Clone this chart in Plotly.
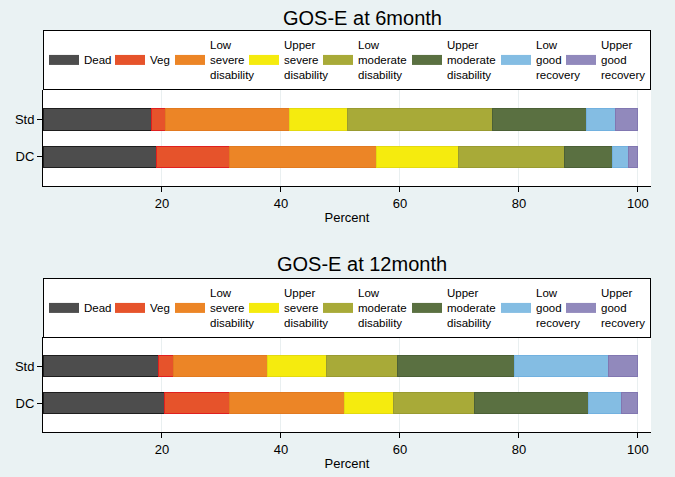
import plotly.graph_objects as go

# GOS-E outcome categories (stacked, percent)
categories = ['Dead', 'Veg', 'Low severe disability', 'Upper severe disability',
              'Low moderate disability', 'Upper moderate disability',
              'Low good recovery', 'Upper good recovery']
legend_labels = [' <br>Dead<br> ', ' <br>Veg<br> ', 'Low<br>severe<br>disability',
                 'Upper<br>severe<br>disability', 'Low<br>moderate<br>disability',
                 'Upper<br>moderate<br>disability', 'Low<br>good<br>recovery',
                 'Upper<br>good<br>recovery']
groups = ['Std', 'DC']

# 6 month
std_6m = [18.2, 2.4, 20.8, 9.7, 24.4, 15.9, 4.8, 3.8]
dc_6m = [19.0, 12.4, 24.6, 13.8, 17.9, 8.1, 2.7, 1.5]
# 12 month
std_12m = [19.4, 2.5, 15.8, 9.9, 12.0, 19.6, 15.8, 5.0]
dc_12m = [20.4, 11.0, 19.2, 8.3, 13.6, 19.2, 5.5, 2.8]

x_ticks = [20, 40, 60, 80, 100]

fills = ['#4d4d4d', '#e6532b', '#ec8526', '#f5eb0e', '#a8aa38', '#5a7041', '#84bde3', '#9189bc']
edges = ['#1e1e1e', '#e0201f', '#e27a20', '#e3da10', '#999b30', '#4b6036', '#72b1df', '#8177b1']
item_widths = [21, 15, 29, 29, 44, 44, 20, 44]

BG = '#eaf2f3'
FONT = 'Liberation Sans, Arial, sans-serif'

fig = go.Figure()

panels = [
    ('x', 'y', 'legend', std_6m, dc_6m),
    ('x2', 'y2', 'legend2', std_12m, dc_12m),
]
for xa, ya, lg, std_vals, dc_vals in panels:
    for i, cat in enumerate(categories):
        grp = lg + str(i)
        fig.add_trace(go.Bar(
            y=groups, x=[std_vals[i], dc_vals[i]], orientation='h',
            name=cat, xaxis=xa, yaxis=ya, legendgroup=grp, showlegend=False,
            width=0.58,
            marker=dict(color=fills[i], line=dict(color=edges[i], width=1)),
            hovertemplate=cat + ': %{x:.1f}%<extra>%{y}</extra>',
        ))
        # legend key (wide swatch)
        fig.add_trace(go.Scatter(
            x=[None], y=[None], mode='lines', name=legend_labels[i],
            xaxis=xa, yaxis=ya, legend=lg, legendgroup=grp,
            legendwidth=item_widths[i], hoverinfo='skip',
            line=dict(color=fills[i], width=14),
        ))

xaxis_style = dict(
    range=[0, 102.2], tickvals=x_ticks, showgrid=True, gridcolor='#e9eff0', gridwidth=1,
    zeroline=False, showline=True, linecolor='black', linewidth=1,
    ticks='outside', ticklen=5, tickcolor='black', tickfont=dict(size=13, color='black'),
    title=dict(text='Percent', font=dict(size=13, color='black'), standoff=3),
)
yaxis_style = dict(
    type='category', categoryorder='array', categoryarray=['DC', 'Std'],
    range=[-0.78, 1.79], showgrid=False, zeroline=False, showline=True,
    linecolor='black', linewidth=1, ticks='outside', ticklen=5, tickcolor='black',
    tickfont=dict(size=13, color='black'),
)
legend_style = dict(
    orientation='h', x=0, xanchor='left', yanchor='top',
    bgcolor='white', bordercolor='black', borderwidth=1,
    font=dict(size=11.5, color='black', family=FONT), itemclick=False,
    itemdoubleclick=False, valign='middle', traceorder='normal',
)

fig.update_layout(
    width=675, height=477,
    margin=dict(l=43, r=24, t=0, b=0),
    paper_bgcolor=BG, plot_bgcolor='white',
    font=dict(family=FONT, color='black'),
    barmode='stack', showlegend=True,
    xaxis=dict(domain=[0, 1], anchor='y', **xaxis_style),
    yaxis=dict(domain=[0.6101, 0.8113], anchor='x', **yaxis_style),
    xaxis2=dict(domain=[0, 1], anchor='y2', **xaxis_style),
    yaxis2=dict(domain=[0.0943, 0.2935], anchor='x2', **yaxis_style),
    legend=dict(y=0.9371, **legend_style),
    legend2=dict(y=0.4172, **legend_style),
    annotations=[
        dict(text='GOS-E at 6month', x=0.5247, y=0.9633, xref='paper', yref='paper',
             xanchor='center', yanchor='middle', showarrow=False, font=dict(size=20)),
        dict(text='GOS-E at 12month', x=0.5247, y=0.4465, xref='paper', yref='paper',
             xanchor='center', yanchor='middle', showarrow=False, font=dict(size=20)),
    ],
)

fig.write_html('out.html', config={'displayModeBar': False},
               post_script="document.body.style.margin='0';")
